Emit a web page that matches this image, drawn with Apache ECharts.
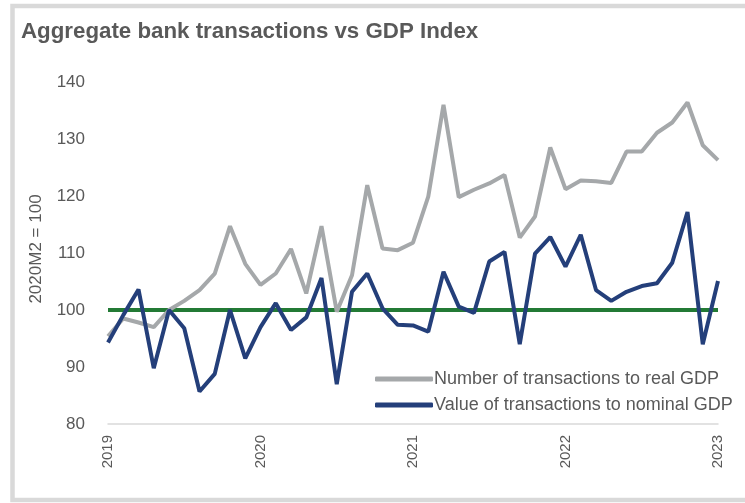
<!DOCTYPE html>
<html>
<head>
<meta charset="utf-8">
<script src="https://cdn.jsdelivr.net/npm/echarts@6/dist/echarts.min.js"></script>
<style>
  html, body { margin: 0; padding: 0; background: #fff; }
  #chart { width: 745px; height: 503px; }
</style>
</head>
<body>
<div id="chart"></div>
<script>
// year labels shown every 10 periods
const tickLabels = ['2019', '2020', '2021', '2022', '2023']

const numberToRealGdp = [
  95.4, 98.5, 97.8, 97.0, 100.0, 101.6, 103.5, 106.4, 114.7, 108.1,
  104.4, 106.4, 110.7, 102.9, 114.7, 99.7, 106.1, 121.9, 110.8, 110.5,
  111.8, 119.9, 136.0, 119.8, 121.1, 122.2, 123.7, 112.7, 116.4, 128.5,
  121.2, 122.7, 122.6, 122.3, 127.8, 127.8, 131.1, 132.9, 136.4, 128.9,
  126.3
]

const valueToNominalGdp = [
  94.3, 99.1, 103.6, 89.8, 100.0, 96.8, 85.7, 88.8, 100.0, 91.5,
  97.0, 101.2, 96.5, 98.7, 105.6, 87.0, 103.2, 106.4, 100.3, 97.4,
  97.3, 96.2, 106.7, 100.6, 99.5, 108.5, 110.2, 94.0, 109.9, 112.8,
  107.6, 113.2, 103.5, 101.6, 103.2, 104.2, 104.7, 108.3, 117.2, 94.0,
  105.1
]

const baseLevel = numberToRealGdp.map(() => 100)
const categories = numberToRealGdp.map((_, i) => String(i))

const chart = echarts.init(document.getElementById('chart'))

const textColor = '#595959'
const font = 'Liberation Sans, Arial, sans-serif'

chart.setOption({
  animation: false,
  textStyle: { fontFamily: font },
  title: {
    text: 'Aggregate bank transactions vs GDP Index',
    left: 16,
    top: 16,
    textStyle: { fontSize: 22.3, fontWeight: 'bold', color: textColor, fontFamily: font }
  },
  graphic: [
    {
      type: 'rect',
      shape: { x: 12.5, y: 6, width: 760, height: 494 },
      style: { fill: 'none', stroke: '#d9d9d9', lineWidth: 4.5 },
      silent: true
    }
  ],
  legend: {
    orient: 'vertical',
    left: 370,
    top: 365,
    itemWidth: 58,
    itemHeight: 5,
    itemGap: 8,
    icon: 'roundRect',
    data: ['Number of transactions to real GDP', 'Value of transactions to nominal GDP'],
    textStyle: { fontSize: 18, color: textColor, fontFamily: font, padding: [0, 0, 0, -4] }
  },
  grid: {
    left: 108,
    right: 27,
    top: 82,
    bottom: 79
  },
  xAxis: {
    type: 'category',
    boundaryGap: false,
    data: categories,
    axisLine: { lineStyle: { color: '#d9d9d9', width: 1.5 } },
    axisTick: { show: false },
    axisLabel: {
      interval: 9,
      rotate: 90,
      margin: 11,
      fontSize: 15,
      color: textColor,
      fontFamily: font,
      formatter: (v, i) => tickLabels[i / 10]
    }
  },
  yAxis: {
    type: 'value',
    min: 80,
    max: 140,
    interval: 10,
    name: '2020M2 = 100',
    nameLocation: 'middle',
    nameGap: 63,
    nameTextStyle: { fontSize: 17, color: textColor, fontFamily: font, padding: [0, 0, 0, 8] },
    axisLine: { show: false },
    axisTick: { show: false },
    splitLine: { show: false },
    axisLabel: { fontSize: 17, color: textColor, margin: 23, fontFamily: font }
  },
  series: [
    {
      name: 'Baseline',
      type: 'line',
      data: baseLevel,
      symbol: 'none',
      lineStyle: { color: '#237a35', width: 4 },
      itemStyle: { color: '#237a35' },
      z: 1
    },
    {
      name: 'Number of transactions to real GDP',
      type: 'line',
      data: numberToRealGdp,
      symbol: 'none',
      lineStyle: { color: '#a5a8aa', width: 4 },
      itemStyle: { color: '#a5a8aa' },
      z: 2
    },
    {
      name: 'Value of transactions to nominal GDP',
      type: 'line',
      data: valueToNominalGdp,
      symbol: 'none',
      lineStyle: { color: '#243f7a', width: 4 },
      itemStyle: { color: '#243f7a' },
      z: 3
    }
  ]
})
</script>
</body>
</html>
